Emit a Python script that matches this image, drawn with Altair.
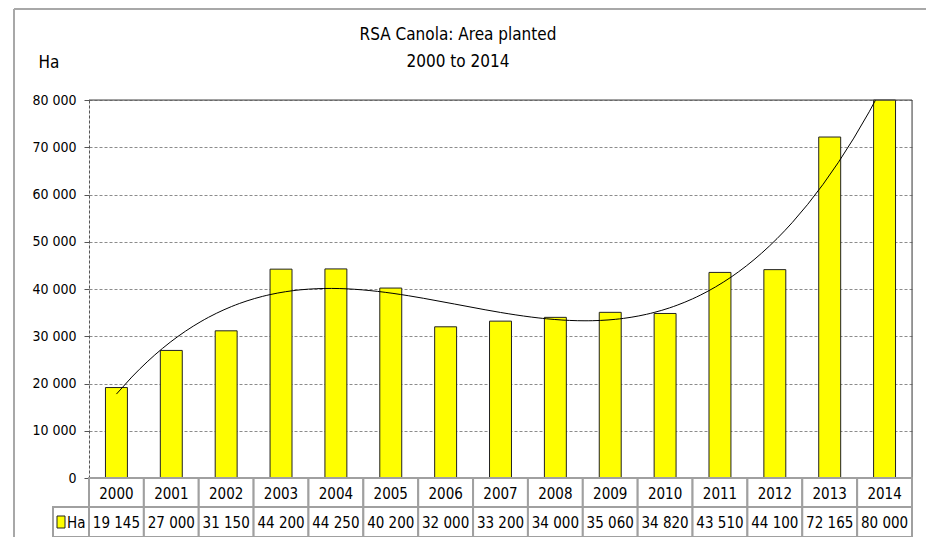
import altair as alt
import pandas as pd

years = [2000, 2001, 2002, 2003, 2004, 2005, 2006, 2007, 2008, 2009, 2010, 2011, 2012, 2013, 2014]
area = [19145, 27000, 31150, 44200, 44250, 40200, 32000, 33200, 34000, 35060, 34820, 43510, 44100, 72165, 80000]
y_ticks = [0, 10000, 20000, 30000, 40000, 50000, 60000, 70000, 80000]
title_lines = ["RSA Canola: Area planted", "2000 to 2014"]
unit = "Ha"

FONT = "DejaVu Sans Condensed"
df = pd.DataFrame({"year": years, "area": area,
                   "label": [f"{v:,}".replace(",", " ") for v in area]})
one = pd.DataFrame({"k": [0]})

PH = 378  # plot bottom (value 0)
R1 = 407
R2 = 437
W = 823

xband = alt.X("year:O", scale=alt.Scale(paddingInner=0, paddingOuter=0), axis=None)
yscale = alt.Scale(domain=[0, 80000], range=[PH, 0], nice=False)

base = alt.Chart(df)

bars = base.mark_bar(width=alt.RelativeBandSize(0.4), fill="#FFFF00", stroke="#222222", strokeWidth=1).encode(
    x=xband,
    y=alt.Y("area:Q", scale=yscale, title=None,
            axis=alt.Axis(values=y_ticks, grid=True, gridDash=[3, 2], gridColor="#8c8c8c",
                          domainColor="#555555", domainDash=[3, 2], tickColor="#555555", tickSize=5,
                          labelPadding=8, labelFont=FONT, labelFontSize=14, labelColor="#000000",
                          labelExpr="replace(format(datum.value, ','), ',', ' ')")),
)

trend = base.transform_regression("year", "area", method="poly", order=3).mark_line(
    color="#000000", strokeWidth=1, clip=True).encode(
    x=alt.X("year:Q", scale=alt.Scale(domain=[1999.5, 2014.5], nice=False, zero=False), axis=None),
    y=alt.Y("area:Q", scale=yscale),
)

top_rule = alt.Chart(one).mark_rule(color="#444444", strokeWidth=1).encode(
    x=alt.value(0), x2=alt.value(W), y=alt.value(0))
right_rule = alt.Chart(one).mark_rule(color="#444444", strokeWidth=1).encode(
    x=alt.value(W), y=alt.value(0), y2=alt.value(PH))

cells1 = base.mark_rect(fill="white", stroke="#a0a0a0", strokeWidth=2).encode(
    x=xband, y=alt.value(PH), y2=alt.value(R1))
cells2 = base.mark_rect(fill="white", stroke="#a0a0a0", strokeWidth=2).encode(
    x=xband, y=alt.value(R1), y2=alt.value(R2))
txt1 = base.mark_text(font=FONT, fontSize=15, color="#000000").encode(
    x=xband, y=alt.value((PH + R1) / 2 + 1), text="year:O")
txt2 = base.mark_text(font=FONT, fontSize=15, color="#000000").encode(
    x=xband, y=alt.value((R1 + R2) / 2 + 1), text="label:N")

leg_cell = alt.Chart(one).mark_rect(fill="white", stroke="#a0a0a0", strokeWidth=2).encode(
    x=alt.value(-36), x2=alt.value(0), y=alt.value(R1), y2=alt.value(R2))
leg_sw = alt.Chart(one).mark_rect(fill="#FFFF00", stroke="#222222", strokeWidth=1).encode(
    x=alt.value(-32), x2=alt.value(-24), y=alt.value(R1 + 9), y2=alt.value(R1 + 21))
leg_txt = alt.Chart(one).mark_text(font=FONT, fontSize=15, color="#000000", align="left").encode(
    x=alt.value(-22), y=alt.value((R1 + R2) / 2 + 1), text=alt.value(unit))

frame_left = alt.Chart(one).mark_rule(color="#a8a8a8", strokeWidth=2).encode(
    x=alt.value(-75), y=alt.value(-91), y2=alt.value(R2 + 10))
frame_top = alt.Chart(one).mark_rule(color="#a8a8a8", strokeWidth=2).encode(
    x=alt.value(-75), x2=alt.value(W + 40), y=alt.value(-91))

t1 = alt.Chart(one).mark_text(font=FONT, fontSize=17, color="#000000").encode(
    x=alt.value(369), y=alt.value(-65), text=alt.value(title_lines[0]))
t2 = alt.Chart(one).mark_text(font=FONT, fontSize=17, color="#000000").encode(
    x=alt.value(369), y=alt.value(-38), text=alt.value(title_lines[1]))
ha = alt.Chart(one).mark_text(font=FONT, fontSize=17, color="#000000").encode(
    x=alt.value(-40), y=alt.value(-37), text=alt.value(unit))

chart = alt.layer(
    frame_left, frame_top, bars, trend, top_rule, right_rule,
    cells1, cells2, txt1, txt2, leg_cell, leg_sw, leg_txt, t1, t2, ha
).resolve_scale(x="independent").properties(
    width=W, height=R2,
    autosize=alt.AutoSizeParams(type="none"),
    padding={"left": 81, "top": 92, "right": 14, "bottom": 0},
).configure_view(stroke=None).configure(background="white")

chart.save("out.html", embed_options={"renderer": "svg", "actions": False})
